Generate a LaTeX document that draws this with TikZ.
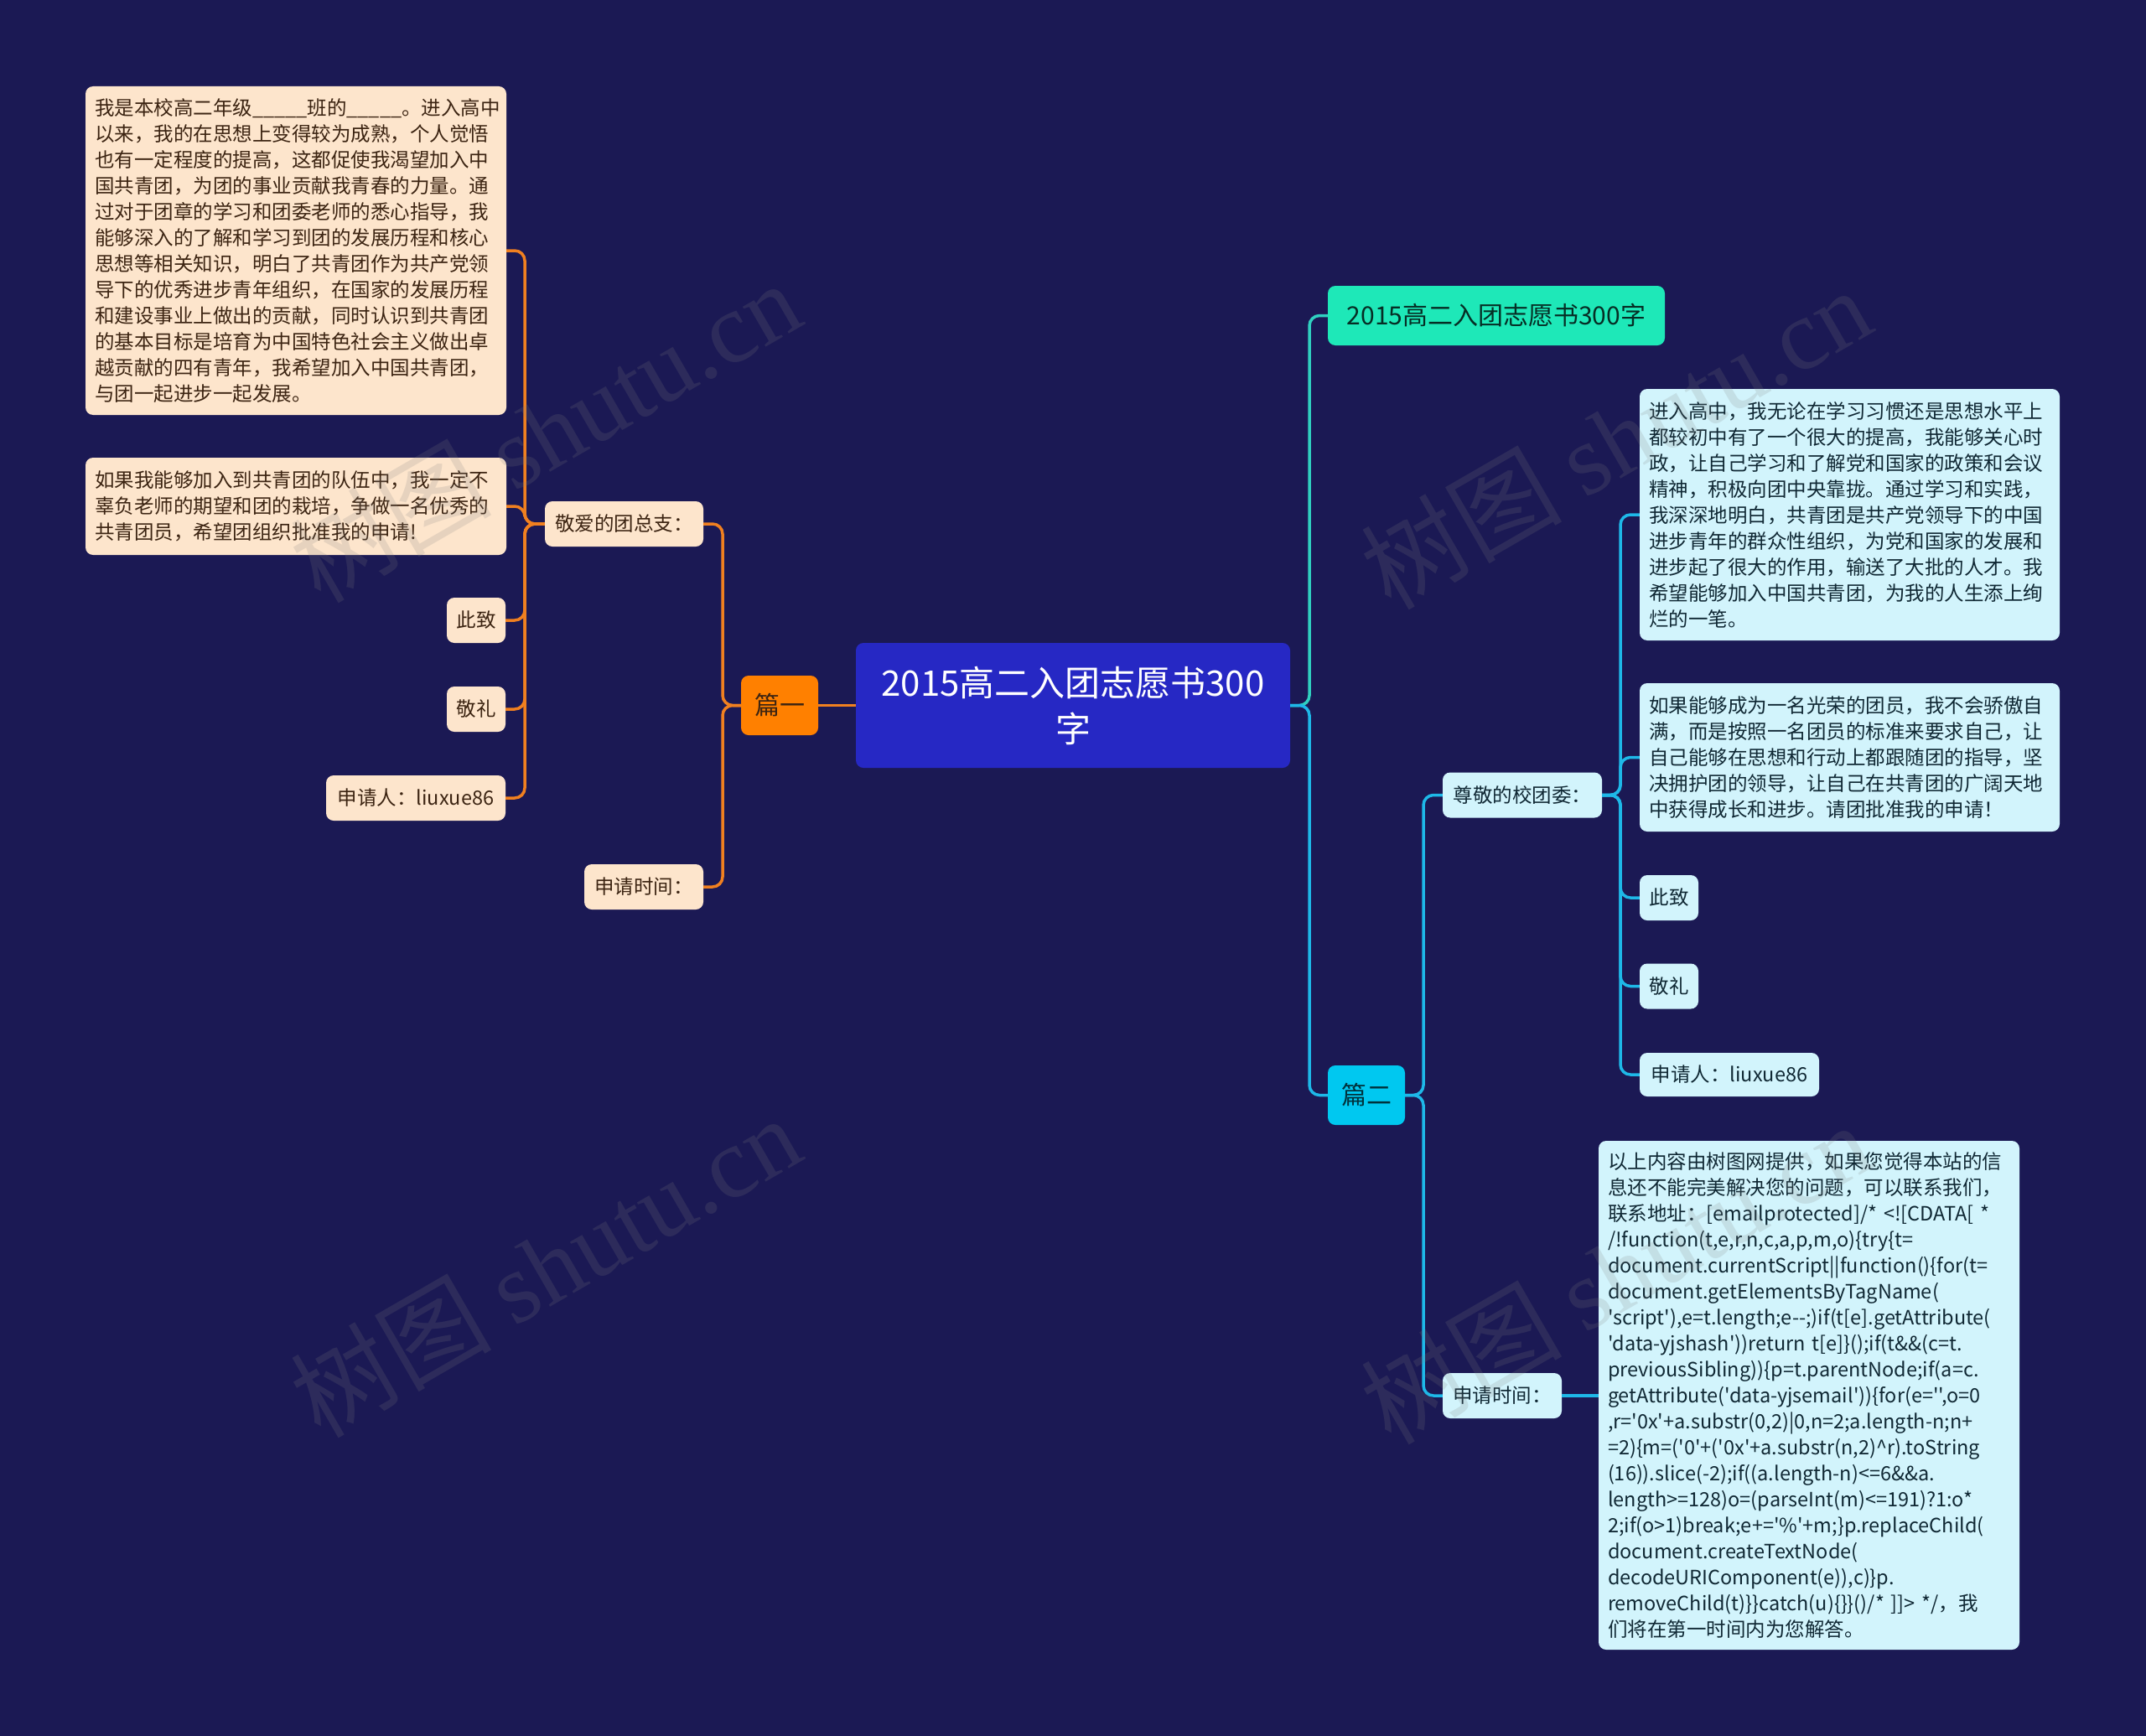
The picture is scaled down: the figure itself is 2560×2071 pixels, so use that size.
\documentclass[tikz,border=0pt]{standalone}
\usepackage{fontspec}
\newfontfamily\cjk{Noto Sans CJK SC}
\newfontfamily\wmserif{Liberation Serif}
\usetikzlibrary{calc}
\definecolor{bg}{RGB}{27,25,84}
\definecolor{rootfill}{RGB}{38,40,196}
\definecolor{orangefill}{RGB}{255,128,0}
\definecolor{orangeline}{RGB}{240,128,32}
\definecolor{peach}{RGB}{253,229,204}
\definecolor{browntext}{RGB}{60,36,18}
\definecolor{lightcyan}{RGB}{210,244,252}
\definecolor{darkteal}{RGB}{16,40,52}
\definecolor{cyanfill}{RGB}{0,200,240}
\definecolor{cyanline}{RGB}{30,184,232}
\definecolor{tealfill}{RGB}{30,232,184}
\definecolor{tealline}{RGB}{48,208,192}
\newcommand\mmsmall{\cjk\fontsize{23.5}{31}\selectfont}
\newcommand\mmmid{\cjk\fontsize{30}{36}\selectfont}
\newcommand\mmbig{\cjk\fontsize{42}{55}\selectfont}
\begin{document}
\begin{tikzpicture}[x=1pt,y=-1pt,
  box/.style={rounded corners=9pt, inner sep=0pt, anchor=center, align=center},
  peachbox/.style={box, fill=peach, text=browntext, font=\mmsmall},
  cyanbox/.style={box, fill=lightcyan, text=darkteal, font=\mmsmall},
  longtext/.style={align=left, inner xsep=11pt, text width=#1},
  oline/.style={draw=orangeline, line width=3.5pt, rounded corners=12pt},
  cline/.style={draw=cyanline, line width=3.5pt, rounded corners=12pt},
  tline/.style={draw=tealline, line width=3.5pt, rounded corners=12pt},
  wmark/.style={text=gray, opacity=0.18, rotate=30, font=\cjk\fontsize{120}{130}\selectfont}
]
\useasboundingbox (0,0) rectangle (2560,2071);
\fill[bg] (0,0) rectangle (2560,2071);

% root
\node[box, fill=rootfill, text=white, font=\mmbig, minimum width=518pt, minimum height=149pt] (root) at (1280,841.5) {2015高二入团志愿书300\\字};

% left branch
\node[box, fill=orangefill, text=browntext, font=\mmmid, minimum width=92pt, minimum height=71pt] (p1) at (930,841.5) {篇一};
\node[peachbox, minimum width=189pt, minimum height=54pt] (ja) at (744.5,625) {敬爱的团总支：};
\node[peachbox, minimum width=142pt, minimum height=54pt] (sjL) at (768,1058) {申请时间：};
\node[peachbox, longtext=480pt, minimum height=392pt] (L1) at (353,299) {我是本校高二年级\_\_\_\_\_班的\_\_\_\_\_。进入高中\\
以来，我的在思想上变得较为成熟，个人觉悟\\
也有一定程度的提高，这都促使我渴望加入中\\
国共青团，为团的事业贡献我青春的力量。通\\
过对于团章的学习和团委老师的悉心指导，我\\
能够深入的了解和学习到团的发展历程和核心\\
思想等相关知识，明白了共青团作为共产党领\\
导下的优秀进步青年组织，在国家的发展历程\\
和建设事业上做出的贡献，同时认识到共青团\\
的基本目标是培育为中国特色社会主义做出卓\\
越贡献的四有青年，我希望加入中国共青团，\\
与团一起进步一起发展。};
\node[peachbox, longtext=480pt, minimum height=116pt] (L2) at (353,604) {如果我能够加入到共青团的队伍中，我一定不\\
辜负老师的期望和团的栽培，争做一名优秀的\\
共青团员，希望团组织批准我的申请!};
\node[peachbox, minimum width=70pt, minimum height=54pt] (czL) at (568,740) {此致};
\node[peachbox, minimum width=70pt, minimum height=54pt] (jlL) at (568,846) {敬礼};
\node[peachbox, minimum width=214pt, minimum height=54pt] (sqL) at (496,952) {申请人：liuxue86};

% right branch
\node[box, fill=tealfill, text=black!80!tealfill, font=\mmmid, minimum width=402pt, minimum height=71pt] (top) at (1785,376.5) {2015高二入团志愿书300字};
\node[box, fill=cyanfill, text=black!75!cyanfill, font=\mmmid, minimum width=92pt, minimum height=71pt] (p2) at (1630,1306.5) {篇二};
\node[cyanbox, minimum width=190pt, minimum height=54pt] (zj) at (1816,948.5) {尊敬的校团委：};
\node[cyanbox, minimum width=142pt, minimum height=54pt] (sjR) at (1792,1665) {申请时间：};
\node[cyanbox, longtext=479pt, minimum height=300pt] (R1) at (2206.5,614) {进入高中，我无论在学习习惯还是思想水平上\\
都较初中有了一个很大的提高，我能够关心时\\
政，让自己学习和了解党和国家的政策和会议\\
精神，积极向团中央靠拢。通过学习和实践，\\
我深深地明白，共青团是共产党领导下的中国\\
进步青年的群众性组织，为党和国家的发展和\\
进步起了很大的作用，输送了大批的人才。我\\
希望能够加入中国共青团，为我的人生添上绚\\
烂的一笔。};
\node[cyanbox, longtext=479pt, minimum height=177pt] (R2) at (2206.5,903.5) {如果能够成为一名光荣的团员，我不会骄傲自\\
满，而是按照一名团员的标准来要求自己，让\\
自己能够在思想和行动上都跟随团的指导，坚\\
决拥护团的领导，让自己在共青团的广阔天地\\
中获得成长和进步。请团批准我的申请！};
\node[cyanbox, minimum width=70pt, minimum height=54pt] (czR) at (1991,1071) {此致};
\node[cyanbox, minimum width=70pt, minimum height=54pt] (jlR) at (1991,1176.5) {敬礼};
\node[cyanbox, minimum width=214pt, minimum height=52pt] (sqR) at (2063,1282) {申请人：liuxue86};
\node[cyanbox, longtext=480pt, minimum height=607pt] (big) at (2158,1664.5) {以上内容由树图网提供，如果您觉得本站的信\\
息还不能完美解决您的问题，可以联系我们，\\
联系地址：[emailprotected]/* <![CDATA[ *\\
/!function(t,e,r,n,c,a,p,m,o)\{try\{t=\\
document.currentScript||function()\{for(t=\\
document.getElementsByTagName(\\
'script'),e=t.length;e--;)if(t[e].getAttribute(\\
'data-yjshash'))return t[e]\}();if(t\&\&(c=t.\\
previousSibling))\{p=t.parentNode;if(a=c.\\
getAttribute('data-yjsemail'))\{for(e='',o=0\\
,r='0x'+a.substr(0,2)|0,n=2;a.length-n;n+\\
=2)\{m=('0'+('0x'+a.substr(n,2)\textasciicircum{}r).toString\\
(16)).slice(-2);if((a.length-n)<=6\&\&a.\\
length>=128)o=(parseInt(m)<=191)?1:o*\\
2;if(o>1)break;e+='\%'+m;\}p.replaceChild(\\
document.createTextNode(\\
decodeURIComponent(e)),c)\}p.\\
removeChild(t)\}\}catch(u)\{\}\}()/* ]]> */，我\\
们将在第一时间内为您解答。};

% trunk coordinates
\coordinate (tA) at (626,0);
\coordinate (tB) at (862,0);
\coordinate (tC) at (1562,0);
\coordinate (tD) at (1698,0);
\coordinate (tE) at (1933,0);

% connectors
\draw[oline] (root.west) -- (p1.east);
\foreach \c in {ja,sjL} \draw[oline] (p1.west) -- (p1.west -| tB) |- (\c.east);
\foreach \c in {L1,L2,czL,jlL,sqL} \draw[oline] (ja.west) -- (ja.west -| tA) |- (\c.east);
\draw[tline] (root.east) -- (root.east -| tC) |- (top.west);
\draw[cline] (root.east) -- (root.east -| tC) |- (p2.west);
\foreach \c in {zj,sjR} \draw[cline] (p2.east) -- (p2.east -| tD) |- (\c.west);
\foreach \c in {R1,R2,czR,jlR,sqR} \draw[cline] (zj.east) -- (zj.east -| tE) |- (\c.west);
\draw[cline] (sjR.east) -- (big.west |- sjR.east);

% watermarks
\node[wmark] (w1) at (650,514) {树图 {\wmserif shutu.cn}};
\node[wmark] (w2) at (650,1510) {树图 {\wmserif shutu.cn}};
\node[wmark] (w3) at (1927,522) {树图 {\wmserif shutu.cn}};
\node[wmark] (w4) at (1927,1518) {树图 {\wmserif shutu.cn}};
\end{tikzpicture}
\end{document}
